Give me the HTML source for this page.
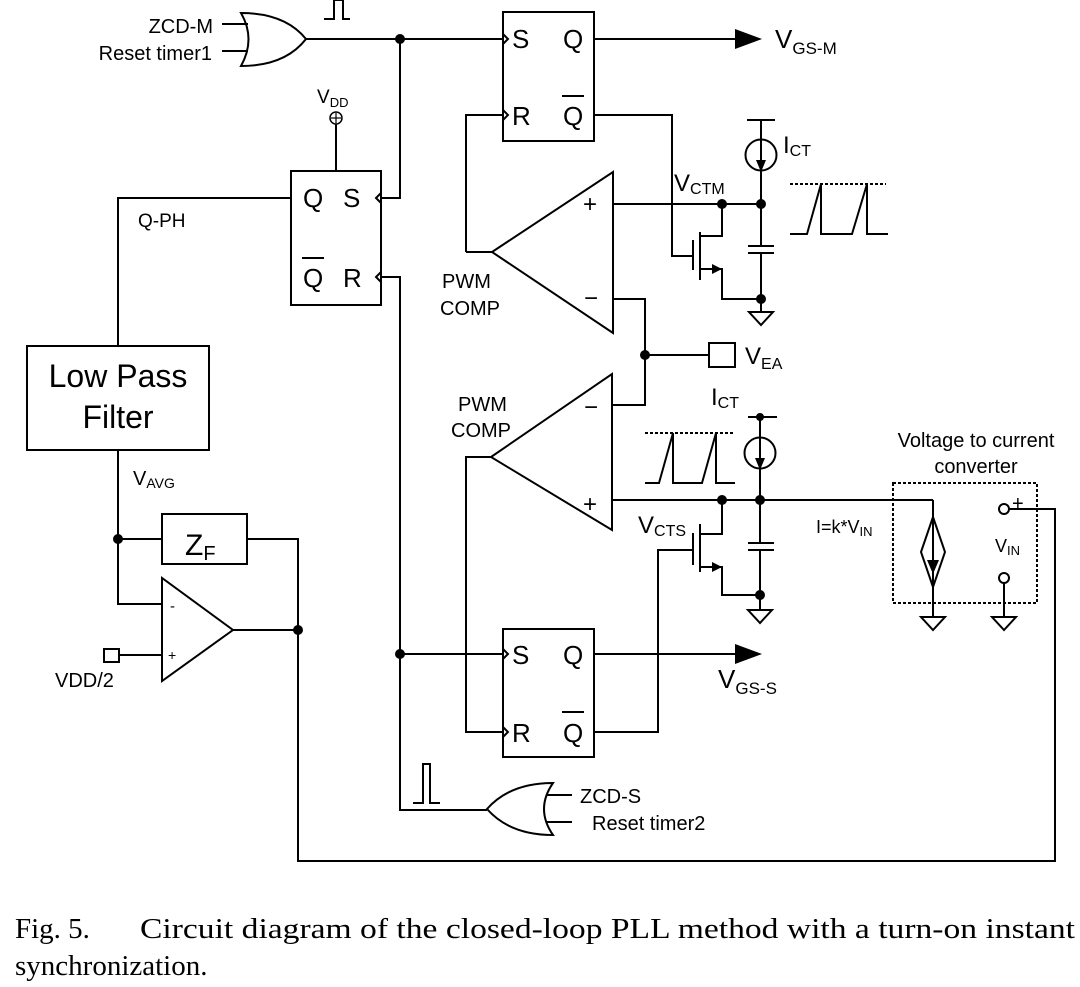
<!DOCTYPE html>
<html><head><meta charset="utf-8"><style>
html,body{margin:0;padding:0;background:#fff;}
svg{display:block;}
text{font-family:"Liberation Sans",Arial,sans-serif;fill:#000;}
.s{font-family:"Liberation Serif","Times New Roman",serif;}
</style></head><body>
<svg width="1080" height="987" viewBox="0 0 1080 987" xmlns="http://www.w3.org/2000/svg">
<g fill="none" stroke="#000" stroke-width="2">
<path d="M241,13 Q285,13 306,39 Q285,66 241,66 Q256,39 241,13 Z"/>
<line x1="222" y1="24" x2="248" y2="24"/><line x1="222" y1="51" x2="248" y2="51"/>
<polyline points="324,19 334,19 334,0 343,0 343,19 350,19"/>
<line x1="306" y1="39" x2="503" y2="39"/>
<rect x="503" y="12" width="91" height="129"/>
<polyline points="503,34 508,39 503,44"/><polyline points="503,110 508,115 503,120"/>
<line x1="594" y1="39" x2="735" y2="39"/>
<polyline points="466,252 466,115 503,115"/>
<polyline points="594,115 672,115 672,256 692,256"/>
<rect x="291" y="171" width="90" height="134"/>
<polyline points="381,193 376,198 381,203"/><polyline points="381,272 376,277 381,282"/>
<polyline points="400,39 400,198 381,198"/>
<polyline points="381,277 400,277 400,810 487,810"/>
<line x1="336" y1="124" x2="336" y2="171"/>
<circle cx="336" cy="118" r="6" stroke-width="1.5"/>
<line x1="331" y1="118" x2="341" y2="118" stroke-width="1.2"/><line x1="336" y1="113" x2="336" y2="123" stroke-width="1.2"/>
<polyline points="291,198 118,198 118,346"/>
<rect x="27" y="346" width="182" height="104"/>
<polyline points="118,450 118,604 162,604"/>
<line x1="118" y1="539" x2="162" y2="539"/>
<rect x="162" y="514" width="85" height="50"/>
<polyline points="247,539 298,539 298,861 1055,861 1055,509 1009,509"/>
<path d="M162,578 L162,681 L233,630 Z"/>
<line x1="233" y1="630" x2="298" y2="630"/>
<rect x="104" y="649" width="15" height="13"/>
<line x1="119" y1="655" x2="162" y2="655"/>
<path d="M613,172 L613,333 L492,252 Z"/>
<polyline points="492,252 466,252"/>
<line x1="613" y1="204" x2="761" y2="204"/>
<polyline points="613,299 645,299 645,405 613,405"/>
<line x1="645" y1="355" x2="709" y2="355"/>
<rect x="709" y="343" width="26" height="24"/>
<line x1="693" y1="240" x2="693" y2="270"/>
<line x1="700" y1="232" x2="700" y2="280"/>
<polyline points="700,236 722,236 722,204"/>
<polyline points="700,269 722,269 722,299 761,299"/>
<line x1="747" y1="120" x2="775" y2="120"/>
<line x1="761" y1="120" x2="761" y2="246"/>
<line x1="761" y1="253" x2="761" y2="312"/>
<circle cx="761" cy="155" r="15.5"/>
<line x1="748" y1="246" x2="774" y2="246"/><line x1="748" y1="253" x2="774" y2="253"/>
<path d="M749,312 L773,312 L761,325 Z"/>
<polyline points="790,234 807,234 821,184 821,234 852,234 867,184 867,234 888,234"/>
<line x1="790" y1="184" x2="886" y2="184" stroke-dasharray="3,2"/>
<path d="M612,374 L612,530 L491,457 Z"/>
<polyline points="491,457 466,457 466,732 503,732"/>
<line x1="612" y1="500" x2="933" y2="500"/>
<line x1="933" y1="500" x2="933" y2="617"/>
<path d="M933,517 L945,552 L933,587 L921,552 Z"/>
<path d="M921,617 L945,617 L933,630 Z"/>
<rect x="893" y="483" width="144" height="120" stroke-dasharray="3,2"/>
<circle cx="1004" cy="509" r="5"/>
<circle cx="1004" cy="578" r="5"/>
<line x1="1004" y1="583" x2="1004" y2="617"/>
<path d="M992,617 L1016,617 L1004,630 Z"/>
<line x1="748" y1="417" x2="777" y2="417"/>
<line x1="760" y1="417" x2="760" y2="543"/>
<line x1="760" y1="550" x2="760" y2="610"/>
<circle cx="760" cy="453" r="15.5"/>
<line x1="748" y1="543" x2="774" y2="543"/><line x1="748" y1="550" x2="774" y2="550"/>
<path d="M748,610 L772,610 L760,623 Z"/>
<polyline points="645,483 659,483 673,433 673,483 702,483 716,433 716,483 735,483"/>
<line x1="645" y1="433" x2="735" y2="433" stroke-dasharray="3,2"/>
<line x1="693" y1="533" x2="693" y2="565"/>
<line x1="700" y1="524" x2="700" y2="572"/>
<polyline points="700,534 722,534 722,500"/>
<polyline points="700,567 722,567 722,595 760,595"/>
<polyline points="594,732 658,732 658,550 692,550"/>
<rect x="503" y="629" width="91" height="128"/>
<polyline points="503,649 508,654 503,659"/><polyline points="503,727 508,732 503,737"/>
<line x1="400" y1="654" x2="503" y2="654"/>
<line x1="594" y1="654" x2="735" y2="654"/>
<polyline points="413,803 423,803 423,764 430,764 430,803 440,803"/>
<path d="M553,783 Q510,783 487,809 Q510,835 553,835 Q535,809 553,783 Z"/>
<line x1="546" y1="795" x2="572" y2="795"/><line x1="546" y1="822" x2="572" y2="822"/>
</g>
<g fill="#000" stroke="none">
<path d="M735,29 L762,39 L735,49 Z"/>
<path d="M735,644 L762,654 L735,664 Z"/>
<circle cx="400" cy="39" r="5"/><circle cx="400" cy="654" r="5"/>
<circle cx="118" cy="539" r="5"/><circle cx="298" cy="630" r="5"/>
<circle cx="645" cy="355" r="5"/>
<circle cx="722" cy="204" r="5"/><circle cx="761" cy="204" r="5"/><circle cx="761" cy="299" r="5"/>
<circle cx="722" cy="500" r="5"/><circle cx="760" cy="500" r="5"/><circle cx="760" cy="595" r="5"/><circle cx="760" cy="417" r="4"/>
<path d="M756,160 L766,160 L761,172 Z"/><rect x="760" y="140" width="2" height="22"/>
<path d="M755,458 L765,458 L760,470 Z"/><rect x="759" y="438" width="2" height="22"/>
<path d="M927,560 L939,560 L933,574 Z"/><rect x="932" y="530" width="2" height="32"/>
<path d="M712,264 L722,269 L712,274 Z"/>
<path d="M712,562 L722,567 L712,572 Z"/>
</g>
<g font-size="20">
<text x="213" y="33" text-anchor="end">ZCD-M</text>
<text x="212" y="60" text-anchor="end">Reset timer1</text>
<text x="317" y="103" font-size="19">V<tspan font-size="13" dy="4">DD</tspan></text>
<text x="138" y="227" font-size="19">Q-PH</text>
<text x="442" y="288">PWM</text>
<text x="440" y="315">COMP</text>
<text x="458" y="411">PWM</text>
<text x="451" y="437">COMP</text>
<text x="55" y="687">VDD/2</text>
<text x="133" y="485">V<tspan font-size="14" dy="3">AVG</tspan></text>
<text x="580" y="803">ZCD-S</text>
<text x="592" y="830">Reset timer2</text>
<text x="976" y="447" text-anchor="middle">Voltage to current</text>
<text x="976" y="473" text-anchor="middle">converter</text>
<text x="816" y="533" font-size="18">I=k*V<tspan font-size="13" dy="3">IN</tspan></text>
<text x="995" y="552" font-size="18">V<tspan font-size="13" dy="3">IN</tspan></text>
<text x="1012" y="510" font-size="20">+</text>
<text x="170" y="611" font-size="15">-</text>
<text x="168" y="660" font-size="14">+</text>
</g>
<g font-size="26">
<text x="512" y="48">S</text><text x="563" y="48">Q</text>
<text x="512" y="125">R</text><text x="563" y="125">Q</text>
<line x1="562" y1="96" x2="584" y2="96" stroke="#000" stroke-width="2"/>
<text x="512" y="664">S</text><text x="563" y="664">Q</text>
<text x="512" y="742">R</text><text x="563" y="742">Q</text>
<line x1="562" y1="712" x2="584" y2="712" stroke="#000" stroke-width="2"/>
<text x="303" y="207">Q</text><text x="343" y="207">S</text>
<text x="303" y="287">Q</text><text x="343" y="287">R</text>
<line x1="302" y1="258" x2="324" y2="258" stroke="#000" stroke-width="2"/>
<text x="583" y="212" font-size="24">+</text>
<text x="584" y="306" font-size="24">−</text>
<text x="584" y="415" font-size="24">−</text>
<text x="583" y="512" font-size="24">+</text>
<text x="775" y="48" font-size="26">V<tspan font-size="17" dy="6">GS-M</tspan></text>
<text x="718" y="688" font-size="26">V<tspan font-size="17" dy="6">GS-S</tspan></text>
<text x="674" y="191" font-size="24">V<tspan font-size="16" dy="3">CTM</tspan></text>
<text x="638" y="533" font-size="24">V<tspan font-size="16" dy="3">CTS</tspan></text>
<text x="745" y="364" font-size="24">V<tspan font-size="16" dy="5">EA</tspan></text>
<text x="783" y="153" font-size="24">I<tspan font-size="16" dy="3">CT</tspan></text>
<text x="711" y="405" font-size="24">I<tspan font-size="16" dy="3">CT</tspan></text>
<text x="185" y="555" font-size="30">Z<tspan font-size="20" dy="5">F</tspan></text>
<text x="118" y="387" font-size="32" text-anchor="middle">Low Pass</text>
<text x="118" y="428" font-size="32" text-anchor="middle">Filter</text>
</g>
<text class="s" x="15" y="938" font-size="29">Fig. 5.</text>
<text class="s" x="140" y="938" font-size="29" textLength="935" lengthAdjust="spacingAndGlyphs">Circuit diagram of the closed-loop PLL method with a turn-on instant</text>
<text class="s" x="15" y="975" font-size="29">synchronization.</text>
</svg>
</body></html>
